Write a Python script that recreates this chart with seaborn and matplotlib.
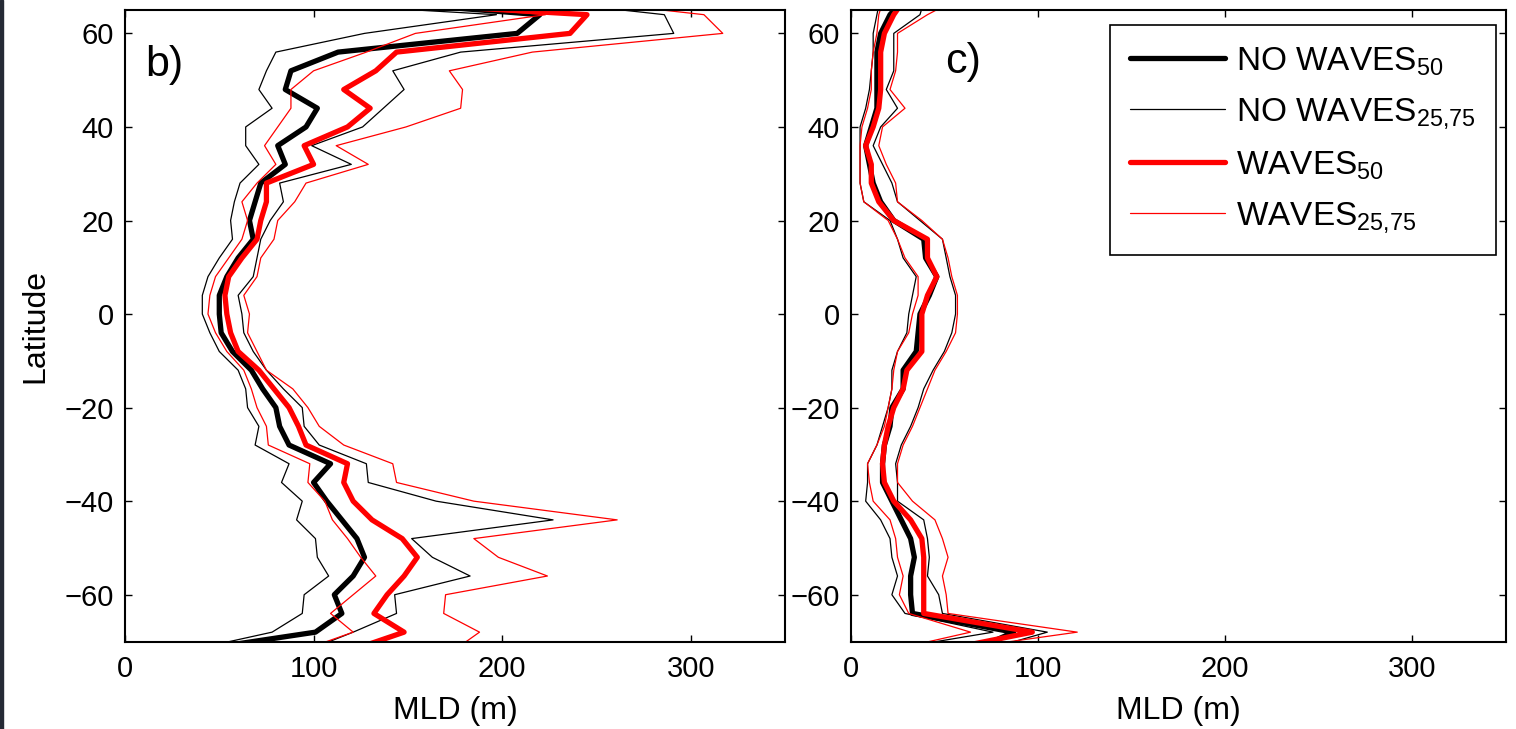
import numpy as np
import pandas as pd
import matplotlib
matplotlib.use("Agg")
import matplotlib.pyplot as plt
import seaborn as sns
from matplotlib.patches import Rectangle

# ------------------ data ------------------
lat = [-72, -68, -64, -60, -56, -52, -48, -44, -40, -36, -32, -28, -24, -20, -16, -12,
       -8, -4, 0, 4, 8, 12, 16, 20, 24, 28, 32, 36, 40, 44, 48, 52, 56, 60, 64, 68]

# panel b)
nw50_b = [35, 101, 115, 111, 121, 127, 123, 115, 107, 100, 109, 87, 82, 80, 73, 67,
          57, 51, 50, 50, 54, 60, 68, 66, 69, 72, 85, 81, 96, 102, 85, 88, 113, 208, 220, 94]
nw25_b = [33, 78, 94, 95, 108, 102, 101, 91, 94, 83, 87, 69, 71, 65, 64, 60,
          50, 45, 41, 41, 44, 50, 57, 56, 58, 61, 71, 64, 64, 78, 71, 75, 80, 127, 197, 26]
nw75_b = [96, 121, 144, 143, 183, 163, 152, 227, 165, 129, 128, 103, 95, 94, 84, 75,
          68, 63, 62, 60, 68, 70, 72, 77, 84, 82, 120, 99, 126, 137, 148, 142, 178, 291, 286, 196]
w50_b = [119, 148, 132, 139, 148, 155, 147, 131, 121, 116, 118, 96, 92, 87, 79, 71,
         60, 56, 54, 53, 55, 62, 70, 72, 75, 75, 100, 95, 118, 130, 116, 133, 144, 236, 245, 74]
w25_b = [93, 121, 109, 121, 133, 125, 118, 110, 106, 97, 98, 76, 75, 70, 67, 63,
         54, 48, 44, 45, 48, 55, 62, 65, 62, 70, 80, 74, 81, 88, 88, 100, 128, 154, 223, 98]
w75_b = [174, 188, 169, 170, 224, 198, 185, 261, 185, 144, 142, 116, 103, 97, 89, 75,
         70, 65, 66, 63, 70, 72, 79, 81, 90, 96, 129, 112, 149, 178, 179, 172, 216, 317, 307, 218]

# panel c)
nw50_c = [65, 87, 33, 32, 32, 34, 32, 27, 22, 17, 17, 18, 21, 22, 28, 28,
          35, 36, 37, 42, 46, 40, 39, 23, 16, 12, 10, 8, 11, 14, 14, 14, 14, 16, 21, 30]
nw25_c = [16, 76, 29, 22, 25, 22, 21, 16, 8, 9, 9, 14, 17, 20, 22, 22,
          25, 30, 31, 33, 35, 28, 25, 21, 7, 5, 5, 5, 5, 8, 10, 11, 12, 12, 14, 16]
nw75_c = [70, 105, 49, 47, 41, 42, 41, 39, 25, 25, 24, 27, 32, 36, 39, 44,
          50, 54, 56, 56, 53, 51, 49, 37, 25, 22, 17, 12, 16, 25, 19, 23, 23, 23, 37, 40]
w50_c = [47, 97, 39, 39, 39, 39, 38, 32, 23, 18, 17, 18, 20, 23, 28, 30,
         38, 38, 38, 41, 46, 41, 41, 23, 15, 11, 11, 8, 12, 15, 16, 16, 16, 18, 23, 30]
w25_c = [20, 64, 31, 26, 28, 25, 24, 21, 12, 10, 9, 14, 18, 20, 22, 23,
         25, 31, 33, 36, 36, 29, 25, 20, 7, 5, 5, 5, 6, 9, 11, 11, 12, 14, 15, 18]
w75_c = [50, 121, 52, 51, 49, 52, 49, 45, 33, 25, 25, 28, 33, 37, 41, 45,
         51, 56, 57, 57, 54, 52, 49, 38, 25, 24, 19, 15, 17, 29, 21, 24, 25, 25, 41, 60]

x_ticks = [0, 100, 200, 300]
y_ticks = [-60, -40, -20, 0, 20, 40, 60]

# ------------------ style ------------------
sns.set_style("ticks")
plt.rcParams["font.family"] = ["Liberation Sans", "DejaVu Sans"]
plt.rcParams["mathtext.fontset"] = "custom"
plt.rcParams["mathtext.rm"] = "Liberation Sans"
plt.rcParams["mathtext.it"] = "Liberation Sans:italic"
plt.rcParams["font.size"] = 20
for key in ["text.color", "axes.labelcolor", "xtick.color", "ytick.color", "axes.edgecolor"]:
    plt.rcParams[key] = "black"

W, H = 1516, 729
fig = plt.figure(figsize=(W / 100, H / 100), dpi=100)
fig.patch.set_facecolor("white")
fig.patches.append(Rectangle((0, 0), 2.5 / W, 1, transform=fig.transFigure,
                             color="#252a35", zorder=0))

bot, top = 641.5, 10
ax_b = fig.add_axes([125 / W, 1 - bot / H, 660 / W, (bot - top) / H])
ax_c = fig.add_axes([850.7 / W, 1 - bot / H, 655.3 / W, (bot - top) / H])

thick, thin = 3.8, 0.9


def draw_panel(ax, nw50, nw25, nw75, w50, w25, w75, with_labels):
    series = [
        (nw50, "black", thick, r"NO WAVES$_{\mathrm{50}}$"),
        (nw25, "black", thin, r"NO WAVES$_{\mathrm{25{,}75}}$"),
        (nw75, "black", thin, None),
        (w50, "red", thick, r"WAVES$_{\mathrm{50}}$"),
        (w25, "red", thin, r"WAVES$_{\mathrm{25{,}75}}$"),
        (w75, "red", thin, None),
    ]
    for vals, col, lw, lab in series:
        df = pd.DataFrame({"mld": vals, "lat": lat})
        sns.lineplot(data=df, x="mld", y="lat", orient="y", estimator=None,
                     color=col, linewidth=lw, ax=ax,
                     label=lab if with_labels else None, legend=False)
    ax.set_xlim(0, 350)
    ax.set_ylim(-70, 65)
    ax.set_xticks(x_ticks)
    ax.set_yticks(y_ticks)
    ax.tick_params(axis="x", direction="in", top=True, length=5, width=1,
                   labelsize=21, pad=10)
    ax.tick_params(axis="y", direction="in", right=True, length=5, width=1,
                   labelsize=21, pad=8)
    for sp in ax.spines.values():
        sp.set_linewidth(1.5)
        sp.set_visible(True)
    ax.set_xlabel("MLD (m)", fontsize=23, labelpad=9)
    ax.set_ylabel("")


draw_panel(ax_b, nw50_b, nw25_b, nw75_b, w50_b, w25_b, w75_b, False)
draw_panel(ax_c, nw50_c, nw25_c, nw75_c, w50_c, w25_c, w75_c, True)

ax_b.set_ylabel("Latitude", fontsize=23, labelpad=10)
ax_b.text(0.03, 0.913, "b)", transform=ax_b.transAxes, fontsize=31, va="center")
ax_c.text(0.144, 0.918, "c)", transform=ax_c.transAxes, fontsize=31, va="center")

leg = ax_c.legend(loc="upper right", bbox_to_anchor=(0.984, 0.976), frameon=True,
                  fancybox=False, edgecolor="black", framealpha=1, fontsize=24,
                  handlelength=2.85, handletextpad=0.33, labelspacing=0.55,
                  borderpad=0.6, borderaxespad=0)
leg.get_frame().set_linewidth(1.2)

fig.savefig("out.png", dpi=100)
